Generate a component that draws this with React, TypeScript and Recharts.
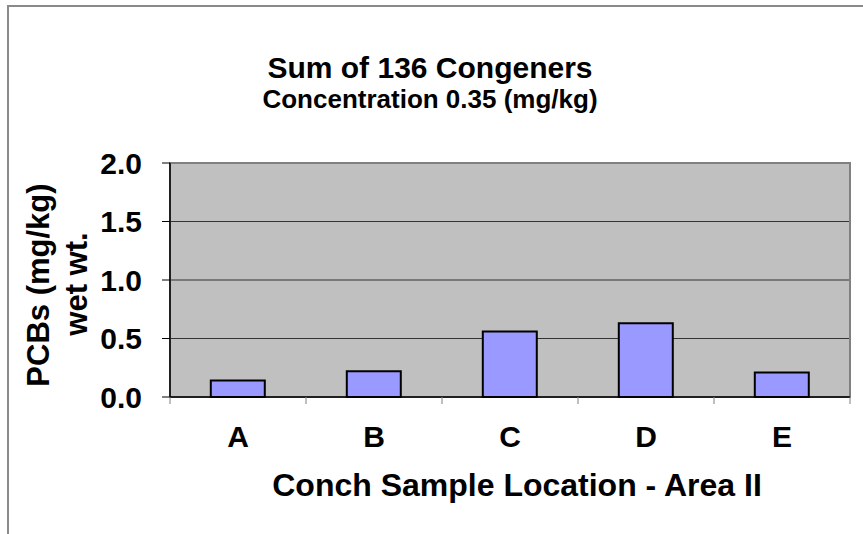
import { BarChart, Bar, XAxis, YAxis, CartesianGrid, ReferenceArea } from "recharts";

const locations = ["A", "B", "C", "D", "E"];
const pcbValues = [0.14, 0.22, 0.56, 0.63, 0.21];
const yTicks = [0, 0.5, 1.0, 1.5, 2.0];

const data = locations.map((location, i) => ({ location, pcb: pcbValues[i] }));

const FONT = "'Liberation Sans', Arial, sans-serif";

const XTick = (props: any) => {
    const { x, y, payload, index, visibleTicksCount, width } = props;
    const band = width / visibleTicksCount;
    const isLast = index === visibleTicksCount - 1;
    return (
        <g>
            <line x1={x - band / 2} x2={x - band / 2} y1={y} y2={y + 7} stroke="#808080" strokeWidth={1} />
            {isLast && <line x1={x + band / 2} x2={x + band / 2} y1={y} y2={y + 7} stroke="#808080" strokeWidth={1} />}
            <text x={x} y={y + 50} textAnchor="middle" fill="#000" fontFamily={FONT} fontWeight="bold" fontSize={30}>
                {payload.value}
            </text>
        </g>
    );
};

export default function App() {
    return (
        <div style={{ position: "fixed", left: 0, top: 0, width: 863, height: 534, overflow: "hidden", background: "#fff" }}>
            <div
                style={{
                    position: "absolute",
                    left: 7,
                    top: 5,
                    width: 1000,
                    height: 1000,
                    border: "2px solid #8a8a8a"
                }}
            />
            <div style={{ position: "absolute", left: 0, top: 0 }}>
                <BarChart
                    width={863}
                    height={534}
                    data={data}
                    margin={{ top: 163, right: 13, bottom: 77, left: 0 }}
                    barCategoryGap="30%"
                >
                    <CartesianGrid fill="#C0C0C0" stroke="#333" strokeWidth={1} vertical={false} />
                    <ReferenceArea y1={0} y2={2} fill="none" stroke="#808080" strokeWidth={2} ifOverflow="visible" />
                    <XAxis
                        dataKey="location"
                        height={60}
                        interval={0}
                        tickLine={false}
                        tickSize={0}
                        tickMargin={0}
                        tick={<XTick />}
                        axisLine={{ stroke: "#000", strokeWidth: 1.5 }}
                    />
                    <YAxis
                        width={170}
                        domain={[0, 2]}
                        ticks={yTicks}
                        interval={0}
                        tickFormatter={(v: number) => v.toFixed(1)}
                        tickSize={8}
                        tickMargin={20}
                        tickLine={{ stroke: "#000" }}
                        axisLine={{ stroke: "#000", strokeWidth: 1.5 }}
                        tick={{ fill: "#000", fontFamily: FONT, fontWeight: "bold", fontSize: 30 }}
                    />
                    <Bar dataKey="pcb" fill="#9999FF" stroke="#000" strokeWidth={2} isAnimationActive={false} />
                    <text x={430} y={78} textAnchor="middle" fontFamily={FONT} fontWeight="bold" fontSize={30} fill="#000">
                        Sum of 136 Congeners
                    </text>
                    <text x={430} y={108} textAnchor="middle" fontFamily={FONT} fontWeight="bold" fontSize={26} fill="#000">
                        Concentration 0.35 (mg/kg)
                    </text>
                    <text
                        x={49}
                        y={285}
                        transform="rotate(-90, 49, 285)"
                        textAnchor="middle"
                        fontFamily={FONT}
                        fontWeight="bold"
                        fontSize={31}
                        fill="#000"
                    >
                        PCBs (mg/kg)
                    </text>
                    <text
                        x={87}
                        y={284}
                        transform="rotate(-90, 87, 284)"
                        textAnchor="middle"
                        fontFamily={FONT}
                        fontWeight="bold"
                        fontSize={31}
                        fill="#000"
                    >
                        wet wt.
                    </text>
                    <text x={517} y={496} textAnchor="middle" fontFamily={FONT} fontWeight="bold" fontSize={32} fill="#000">
                        Conch Sample Location - Area II
                    </text>
                </BarChart>
            </div>
        </div>
    );
}
